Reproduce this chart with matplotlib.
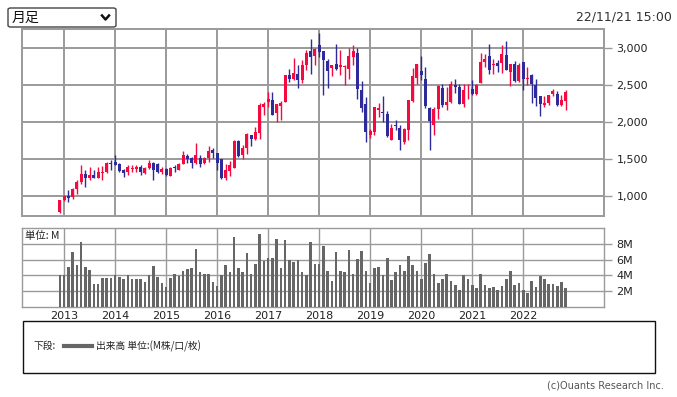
import matplotlib
matplotlib.use("Agg")
import matplotlib.pyplot as plt
from matplotlib.patches import Rectangle, FancyBboxPatch
from matplotlib.lines import Line2D
from matplotlib.ticker import FuncFormatter

# monthly candles, Dec 2012 .. Nov 2022
opens = [788, 946, 1000, 990, 1103, 1193, 1306, 1248, 1284, 1252, 1315, 1329,
         1455, 1464, 1441, 1360, 1329, 1365, 1374, 1396, 1315, 1383, 1455, 1441,
         1329, 1374, 1275, 1392, 1360, 1432, 1540, 1518, 1450, 1522, 1450, 1518,
         1621, 1585, 1509, 1252, 1338, 1383, 1743, 1554, 1657, 1824, 1770, 1860,
         2207, 2275, 2297, 2126, 2221, 2275, 2635, 2581, 2658, 2567, 2779, 2959,
         2892, 3041, 2959, 2824, 2734, 2784, 2752, 2752, 2725, 2883, 2936, 2432,
         2252, 1824, 1869, 2171, 2144, 2108, 1757, 1968, 1928, 1734, 1892, 2288,
         2604, 2689, 2581, 2198, 1959, 2185, 2464, 2239, 2275, 2500, 2477, 2243,
         2432, 2455, 2378, 2531, 2815, 2892, 2779, 2802, 2802, 2905, 2680, 2784,
         2559, 2815, 2590, 2644, 2500, 2351, 2230, 2261, 2387, 2378, 2230, 2288]
highs = [946, 1013, 1081, 1117, 1225, 1419, 1351, 1396, 1351, 1396, 1405, 1464,
         1496, 1554, 1450, 1374, 1419, 1419, 1419, 1419, 1396, 1486, 1464, 1455,
         1396, 1383, 1396, 1419, 1455, 1608, 1576, 1531, 1720, 1563, 1530, 1675,
         1657, 1585, 1509, 1441, 1473, 1757, 1757, 1698, 1856, 1824, 1937, 2261,
         2275, 2410, 2410, 2243, 2284, 2635, 2716, 2874, 2779, 2838, 2973, 3122,
         3004, 3207, 2959, 2860, 2779, 3054, 2973, 2779, 3009, 3041, 3009, 2554,
         2342, 1914, 2207, 2261, 2351, 2153, 1973, 2027, 1960, 1928, 2297, 2739,
         2784, 2892, 2748, 2207, 2207, 2509, 2513, 2477, 2559, 2590, 2522, 2513,
         2513, 2567, 2522, 2941, 2928, 3054, 2851, 2847, 3041, 3095, 2793, 2829,
         2802, 2815, 2748, 2658, 2590, 2351, 2351, 2365, 2455, 2423, 2365, 2441]
lows = [775, 940, 923, 959, 1036, 1171, 1126, 1216, 1243, 1248, 1216, 1315,
        1351, 1419, 1329, 1261, 1284, 1329, 1329, 1284, 1297, 1374, 1216, 1315,
        1306, 1275, 1270, 1329, 1351, 1432, 1450, 1383, 1432, 1396, 1440, 1464,
        1518, 1351, 1239, 1225, 1275, 1383, 1531, 1509, 1576, 1675, 1760, 1780,
        2095, 2207, 2095, 2005, 2036, 2270, 2545, 2567, 2464, 2536, 2703, 2649,
        2770, 2883, 2365, 2464, 2626, 2703, 2644, 2500, 2590, 2770, 2311, 2140,
        1734, 1788, 1824, 2072, 2005, 1801, 1757, 1900, 1622, 1712, 1766, 2275,
        2522, 2577, 2194, 1622, 1824, 2041, 2207, 2162, 2266, 2396, 2243, 2207,
        2320, 2365, 2370, 2531, 2748, 2658, 2658, 2680, 2667, 2703, 2486, 2545,
        2545, 2432, 2500, 2261, 2216, 2081, 2207, 2230, 2351, 2216, 2216, 2162]
closes = [946, 1000, 982, 1103, 1193, 1306, 1248, 1284, 1248, 1329, 1329, 1455,
          1441, 1428, 1342, 1315, 1396, 1387, 1396, 1329, 1387, 1455, 1351, 1329,
          1374, 1284, 1387, 1383, 1441, 1554, 1509, 1450, 1554, 1432, 1522, 1608,
          1585, 1450, 1248, 1351, 1419, 1743, 1545, 1657, 1847, 1770, 1869, 2230,
          2252, 2311, 2104, 2243, 2266, 2635, 2581, 2671, 2567, 2770, 2941, 2883,
          2995, 2950, 2838, 2689, 2770, 2716, 2770, 2761, 2892, 2959, 2455, 2194,
          1869, 1883, 2207, 2194, 2131, 1815, 1928, 1950, 1757, 1914, 2297, 2622,
          2784, 2635, 2216, 2018, 2185, 2486, 2239, 2275, 2513, 2477, 2252, 2432,
          2441, 2378, 2500, 2815, 2851, 2712, 2792, 2757, 2919, 2712, 2793, 2559,
          2770, 2590, 2599, 2523, 2329, 2243, 2261, 2365, 2419, 2230, 2297, 2410]
volumes = [4.0, 4.0, 5.1, 7.0, 5.3, 8.2, 5.1, 4.7, 2.9, 2.9, 3.7, 3.7,
           3.7, 4.1, 3.8, 3.5, 4.0, 3.5, 3.6, 3.5, 3.2, 4.0, 5.2, 3.8,
           3.1, 2.5, 3.7, 4.2, 3.9, 4.5, 4.8, 4.9, 7.4, 4.4, 4.2, 4.2,
           3.2, 2.7, 4.1, 5.3, 4.4, 8.8, 5.0, 4.4, 6.8, 4.2, 5.5, 9.3,
           5.8, 6.2, 6.2, 8.6, 5.0, 8.5, 5.9, 5.7, 5.9, 4.4, 4.0, 8.2,
           5.5, 5.5, 7.7, 4.5, 3.3, 7.0, 4.6, 4.4, 7.2, 4.2, 6.1, 7.1,
           4.6, 3.1, 4.9, 5.1, 4.1, 6.2, 3.4, 4.4, 5.3, 4.6, 6.4, 5.3,
           4.5, 3.6, 5.6, 6.7, 4.2, 3.1, 3.6, 4.2, 3.3, 2.8, 2.2, 4.1,
           3.5, 2.8, 2.4, 4.2, 2.8, 2.4, 2.5, 2.1, 2.6, 3.6, 4.5, 2.8,
           3.1, 2.2, 1.8, 3.3, 2.5, 3.9, 3.6, 2.9, 2.9, 2.6, 3.2, 2.4]
years = [2013, 2014, 2015, 2016, 2017, 2018, 2019, 2020, 2021, 2022]
price_ticks = [1000, 1500, 2000, 2500, 3000]
vol_ticks = [2, 4, 6, 8]

W, H = 677, 397
UP = '#f50a40'
DOWN = '#2d2a9b'
GRID = '#9a9a9a'
JP = ['Noto Sans CJK JP', 'DejaVu Sans']


def box(l, t, r, b):
    return [l / W, 1 - b / H, (r - l) / W, (b - t) / H]


fig = plt.figure(figsize=(W / 100, H / 100), dpi=100)
fig.patch.set_facecolor('white')

x = list(range(len(opens)))
year_pos = [1 + 12 * (y - 2013) for y in years]
xlim = (-8.9, 128.0)

# price panel
ax = fig.add_axes(box(22, 29, 604, 216))
cols = [UP if c >= o else DOWN for o, c in zip(opens, closes)]
ax.vlines(x, lows, highs, colors=cols, lw=1, zorder=3)
bottoms = [min(o, c) for o, c in zip(opens, closes)]
heights = [max(abs(c - o), 8) for o, c in zip(opens, closes)]
ax.bar(x, heights, bottom=bottoms, width=0.7, color=cols, lw=0, zorder=4)
ax.set_xlim(*xlim)
ax.set_ylim(735, 3260)
ax.set_xticks(year_pos)
ax.set_yticks(price_ticks)
ax.set_yticklabels([f'{v:,}' for v in price_ticks])
ax.tick_params(axis='x', length=0, labelbottom=False)
ax.yaxis.tick_right()
ax.tick_params(axis='y', length=6, width=1, color=GRID, pad=3,
               labelsize=8, labelcolor='#222222')
ax.grid(True, color=GRID, lw=1.4, zorder=0)
for s in ax.spines.values():
    s.set_color(GRID)
    s.set_linewidth(1.4)

# volume panel
axv = fig.add_axes(box(22, 228, 604, 307))
axv.bar(x, volumes, width=0.62, color='#666666', lw=0, zorder=3)
axv.set_xlim(*xlim)
axv.set_ylim(0, 10)
axv.set_xticks(year_pos)
axv.set_xticklabels([str(y) for y in years])
axv.set_yticks(vol_ticks)
axv.yaxis.set_major_formatter(FuncFormatter(lambda v, p: f'{int(v)}M'))
axv.yaxis.tick_right()
axv.tick_params(axis='y', length=6, width=1, color=GRID, pad=3,
                labelsize=8, labelcolor='#222222')
axv.tick_params(axis='x', length=0, pad=3, labelsize=8, labelcolor='#222222')
axv.grid(True, color=GRID, lw=1.0, zorder=0)
for s in axv.spines.values():
    s.set_color(GRID)
    s.set_linewidth(1.0)
axv.text(0.005, 0.96, '単位: M', transform=axv.transAxes, family=JP,
         fontsize=7.5, va='top', ha='left', color='#222222', zorder=5,
         bbox=dict(facecolor='white', edgecolor='none', pad=0.5))

# dropdown at top left
fig.add_artist(FancyBboxPatch((8 / W, 1 - 27 / H), 108 / W, 19 / H,
                              boxstyle='round,pad=0,rounding_size=0.004',
                              transform=fig.transFigure, facecolor='white',
                              edgecolor='#444444', lw=1))
fig.text(12 / W, 1 - 17.5 / H, '月足', family=JP, fontsize=10,
         va='center', ha='left', color='#111111')
fig.add_artist(Line2D([102 / W, 105.5 / W, 109 / W],
                      [1 - 15.5 / H, 1 - 19.5 / H, 1 - 15.5 / H],
                      transform=fig.transFigure, color='#111111', lw=1.8))
fig.text(672 / W, 1 - 17 / H, '22/11/21 15:00', fontsize=9,
         va='center', ha='right', color='#333333')

# legend box
fig.add_artist(Rectangle((23 / W, 1 - 373 / H), 632 / W, 52 / H,
                         transform=fig.transFigure, facecolor='white',
                         edgecolor='#111111', lw=1))
fig.text(33 / W, 1 - 346 / H, '下段:', family=JP, fontsize=7,
         va='center', ha='left', color='#222222')
fig.add_artist(Line2D([64 / W, 92 / W], [1 - 346 / H, 1 - 346 / H],
                      transform=fig.transFigure, color='#666666', lw=3))
fig.text(96 / W, 1 - 346 / H, '出来高 単位:(M株/口/枚)', family=JP, fontsize=7,
         va='center', ha='left', color='#222222')
fig.text(664 / W, 1 - 385 / H, '(c)Ouants Research Inc.', fontsize=7,
         va='center', ha='right', color='#555555')

fig.savefig('out.png', dpi=100)
